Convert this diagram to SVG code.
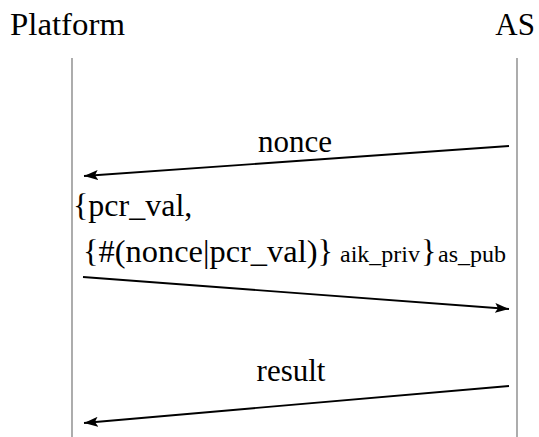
<svg xmlns="http://www.w3.org/2000/svg" width="539" height="437" viewBox="0 0 539 437">
<style>
.t{font-size:31px}
.m{font-size:32px}
.s{font-size:24px}
.life{stroke:#808080;stroke-width:1.3;fill:none}
.msg{stroke:#000;stroke-width:1.8;fill:none}
</style>
<defs>
<marker id="ahb" viewBox="0 0 14 10" refX="14" refY="5" markerWidth="14" markerHeight="10" markerUnits="userSpaceOnUse" orient="auto">
<path d="M0,0 L14,5 L0,10 L3,5 Z" fill="#000"/>
</marker>
</defs>
<g font-family="Liberation Serif, DejaVu Serif, serif" fill="#000">
<g id="platform">
<text class="t" x="10" y="35" textLength="115" lengthAdjust="spacingAndGlyphs">Platform</text>
<line class="life" x1="72" y1="58" x2="72" y2="437"/>
</g>
<g id="as">
<text class="t" x="535" y="35" text-anchor="end">AS</text>
<line class="life" x1="517" y1="58" x2="517" y2="437"/>
</g>
<g id="connectors">
<line class="msg" x1="509" y1="146" x2="84" y2="176" marker-end="url(#ahb)"/>
<line class="msg" x1="83" y1="277" x2="509" y2="309" marker-end="url(#ahb)"/>
<line class="msg" x1="509" y1="386" x2="84" y2="423" marker-end="url(#ahb)"/>
</g>
<g id="labels">
<text class="t" x="295" y="152" text-anchor="middle">nonce</text>
<text class="m" x="73" y="216">{pcr_val,</text>
<text class="m" x="83" y="262" textLength="250" lengthAdjust="spacingAndGlyphs">{#(nonce|pcr_val)}</text>
<text class="s" x="340" y="262">aik_priv</text>
<text class="m" x="421" y="262">}</text>
<text class="s" x="438" y="262">as_pub</text>
<text class="t" x="291" y="381" text-anchor="middle">result</text>
</g>
</g>
</svg>
